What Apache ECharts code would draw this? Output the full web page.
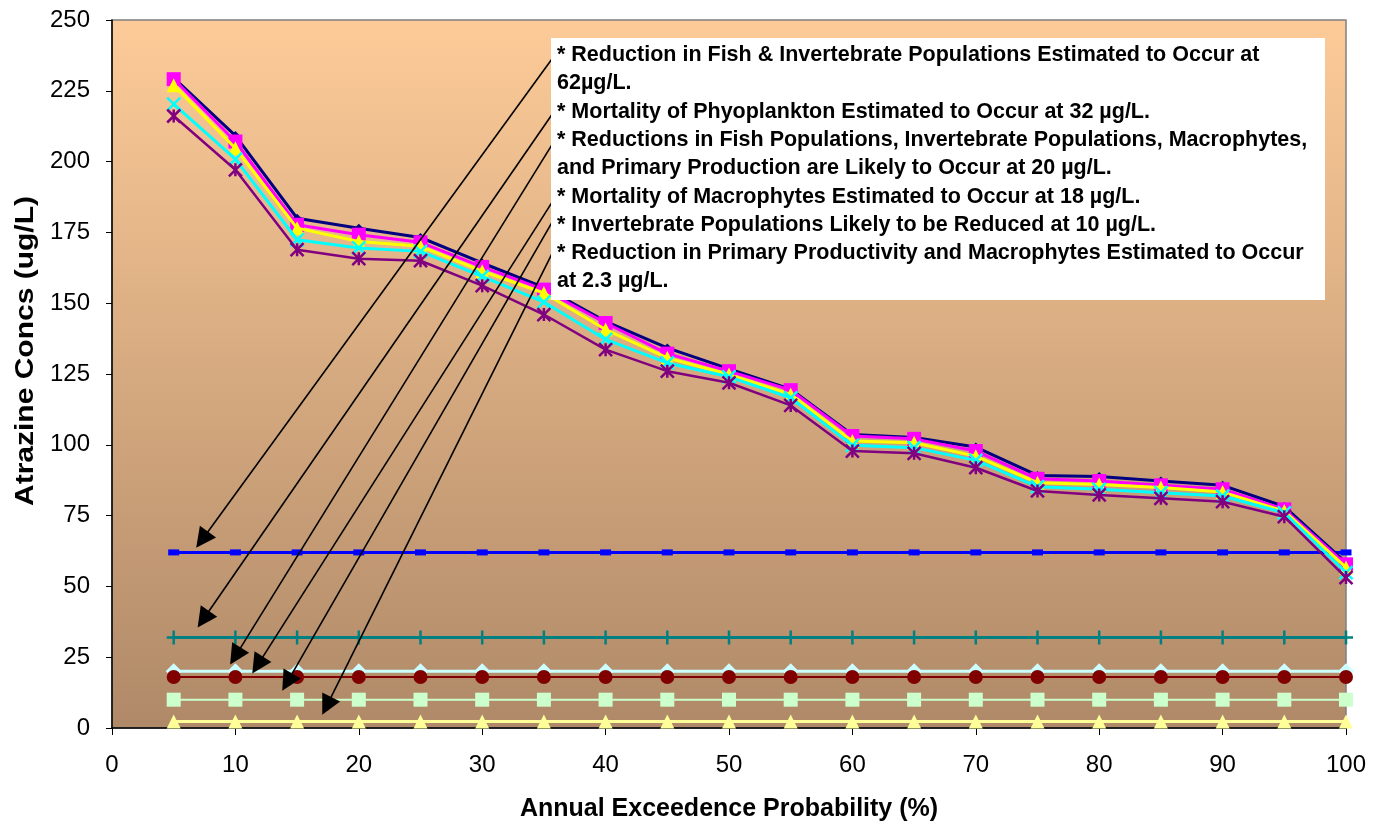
<!DOCTYPE html>
<html>
<head>
<meta charset="utf-8">
<script src="https://cdn.jsdelivr.net/npm/echarts@6.0.0/dist/echarts.min.js"></script>
<style>
html, body { margin: 0; padding: 0; background: #fff; }
#chart { width: 1380px; height: 827px; }
</style>
</head>
<body>
<div id="chart"></div>
<script>
// annual exceedence probability (%)
var probability = [5, 10, 15, 20, 25, 30, 35, 40, 45, 50, 55, 60, 65, 70, 75, 80, 85, 90, 95, 100];

// atrazine concentration curves (ug/L)
var navyConc    = [229.6, 209.2, 180.0, 176.5, 173.2, 164.2, 155.6, 143.6, 134.2, 126.8, 119.6, 103.6, 102.6, 99.2, 89.2, 88.8, 87.2, 85.7, 78.2, 58.4];
var magentaConc = [229.1, 207.1, 177.7, 174.2, 171.5, 162.8, 154.8, 143.0, 132.2, 126.0, 119.3, 103.1, 102.1, 97.8, 88.0, 87.2, 85.7, 84.3, 77.2, 57.8];
var yellowConc  = [227.0, 204.7, 176.5, 171.8, 170.1, 161.3, 153.6, 140.7, 130.7, 124.8, 117.8, 101.3, 100.7, 96.0, 86.6, 86.0, 84.9, 83.3, 76.6, 56.7];
var cyanConc    = [220.3, 200.9, 172.4, 169.5, 168.3, 159.5, 150.4, 137.2, 128.9, 124.0, 116.6, 99.8, 99.0, 94.5, 85.2, 84.3, 83.1, 81.9, 76.0, 54.9];
var purpleConc  = [216.1, 197.1, 168.9, 165.7, 165.0, 156.2, 146.0, 133.6, 126.0, 121.9, 113.9, 97.8, 97.0, 91.9, 83.7, 82.3, 81.1, 79.9, 74.6, 53.1];

// effect thresholds (ug/L)
var thresholds = [62, 32, 20, 18, 10, 2.3];

var notes = [
  '* Reduction in Fish & Invertebrate Populations Estimated to Occur at',
  '62\u00b5g/L.',
  '* Mortality of Phyoplankton Estimated to Occur at 32 \u00b5g/L.',
  '* Reductions in Fish Populations, Invertebrate Populations, Macrophytes,',
  'and Primary Production are Likely to Occur at 20 \u00b5g/L.',
  '* Mortality of Macrophytes Estimated to Occur at 18 \u00b5g/L.',
  '* Invertebrate Populations Likely to be Reduced at 10 \u00b5g/L.',
  '* Reduction in Primary Productivity and Macrophytes Estimated to Occur',
  'at 2.3 \u00b5g/L.'
];

// callout arrows: from the note bullet to the threshold line
var arrowFrom = [[36.3, 240.1], [36.3, 220.7], [36.3, 210.5], [36.3, 190.0], [36.1, 181.9], [36.1, 171.4]];
var arrowTo   = [[7.3, 66.5], [7.4, 38.4], [10.0, 25.4], [11.8, 22.2], [14.2, 16.2], [17.4, 7.8]];

var FONT = '"Liberation Sans", Arial, sans-serif';
var CROSS = 'path://M0,0L10,10M10,0L0,10';
var STAR = 'path://M0,0L10,10M10,0L0,10M5,0L5,10';
var PLUS = 'path://M5,0L5,10M0,5L10,5';

function pairs(values) {
  return probability.map(function (x, i) { return [x, values[i]]; });
}

function curve(values, color, width, symbol, size, z, stroke) {
  return {
    type: 'line',
    data: pairs(values),
    symbol: symbol,
    symbolSize: size,
    lineStyle: { color: color, width: width },
    itemStyle: stroke ? { color: color, borderColor: color, borderWidth: stroke } : { color: color },
    emphasis: { disabled: true },
    z: z
  };
}

function level(value, color, width, symbol, size, z, stroke) {
  return curve(probability.map(function () { return value; }), color, width, symbol, size, z, stroke);
}

var series = [
  level(thresholds[0], '#0000FF', 3, 'rect', [11, 6], 2),
  level(thresholds[1], '#008080', 3, PLUS, 14, 2, 2.5),
  level(thresholds[2], '#CCFFFF', 3, 'diamond', 16, 2),
  level(thresholds[3], '#800000', 2, 'circle', 14, 3),
  level(thresholds[4], '#CCFFCC', 2, 'rect', 14, 2),
  level(thresholds[5], '#FFFF99', 3, 'triangle', 14, 2),
  curve(navyConc, '#000080', 3, 'diamond', 9, 4),
  curve(magentaConc, '#FF00FF', 3, 'rect', 14, 5),
  curve(yellowConc, '#FFFF00', 3, 'triangle', 14, 6),
  curve(cyanConc, '#00FFFF', 3, CROSS, 13, 7, 2.5),
  curve(purpleConc, '#800080', 2.5, STAR, 13, 8, 2.5),
  {
    type: 'lines',
    coordinateSystem: 'cartesian2d',
    data: arrowFrom.map(function (p, i) { return { coords: [p, arrowTo[i]] }; }),
    symbol: ['none', 'triangle'],
    symbolSize: [0, 20],
    lineStyle: { color: '#000', width: 1.6, opacity: 1 },
    silent: true,
    z: 20
  }
];

var chart = echarts.init(document.getElementById('chart'));
chart.setOption({
  animation: false,
  backgroundColor: '#fff',
  grid: {
    left: 112, right: 34, top: 20, bottom: 98,
    show: true,
    borderColor: '#808080',
    borderWidth: 1.5,
    backgroundColor: {
      type: 'linear', x: 0, y: 0, x2: 0, y2: 1,
      colorStops: [{ offset: 0, color: '#FDCB98' }, { offset: 1, color: '#AF8968' }]
    }
  },
  xAxis: {
    type: 'value',
    min: 0, max: 100, interval: 10,
    name: 'Annual Exceedence Probability (%)',
    nameLocation: 'middle',
    nameGap: 69,
    nameTextStyle: { fontFamily: FONT, fontWeight: 'bold', fontSize: 25, color: '#000' },
    axisLine: { lineStyle: { color: '#000', width: 1.5 } },
    axisTick: { length: 7, lineStyle: { color: '#000' } },
    axisLabel: { fontFamily: FONT, fontSize: 24, color: '#000', margin: 25 },
    splitLine: { show: false }
  },
  yAxis: {
    type: 'value',
    min: 0, max: 250, interval: 25,
    axisLine: { show: true, lineStyle: { color: '#000', width: 1.5 } },
    axisTick: { show: true, length: 6, lineStyle: { color: '#000' } },
    axisLabel: { fontFamily: FONT, fontSize: 24, color: '#000', margin: 22 },
    splitLine: { show: false }
  },
  graphic: [
    {
      type: 'text',
      x: 26, y: 351,
      rotation: Math.PI / 2,
      scaleX: 1.2,
      style: {
        text: 'Atrazine Concs (ug/L)',
        font: 'bold 25px ' + FONT,
        fill: '#000',
        align: 'center',
        verticalAlign: 'middle'
      }
    },
    {
      type: 'rect',
      left: 551, top: 38,
      shape: { width: 774, height: 262 },
      style: { fill: '#fff' },
      z: 50
    },
    {
      type: 'text',
      left: 557, top: 41,
      style: {
        text: notes.join('\n'),
        font: 'bold 21.5px ' + FONT,
        fill: '#000',
        lineHeight: 28.3
      },
      z: 51
    }
  ],
  series: series
});
</script>
</body>
</html>
